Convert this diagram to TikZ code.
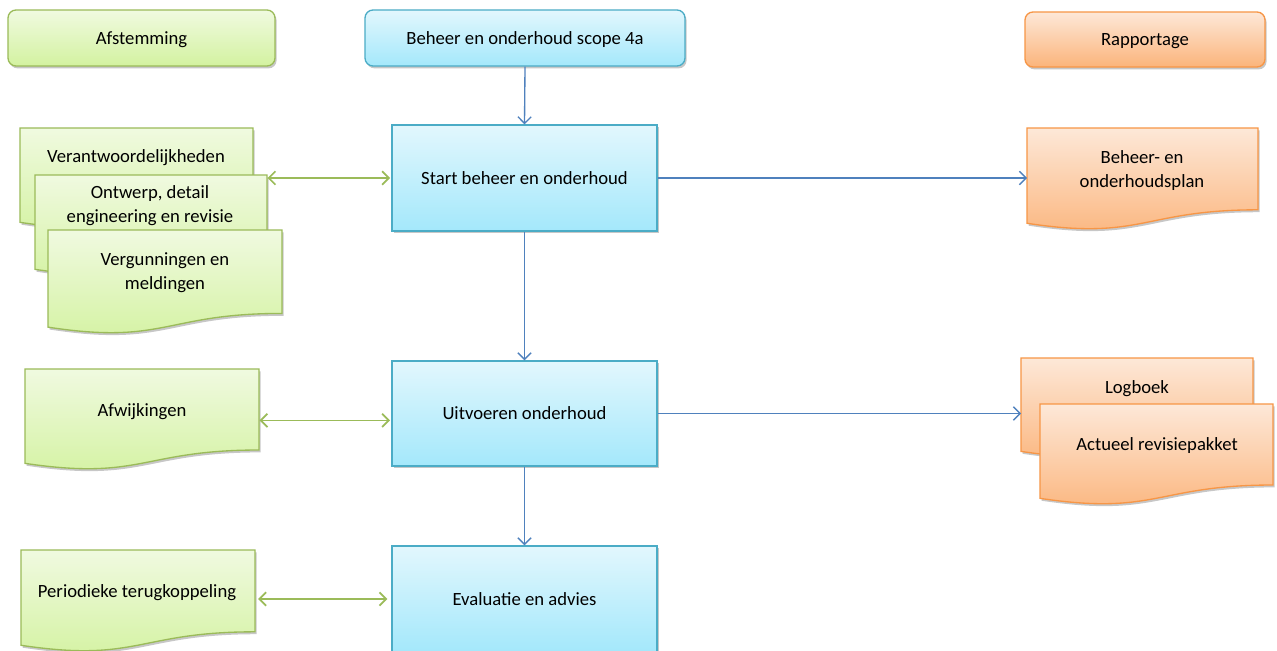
\documentclass[tikz,border=0pt]{standalone}
\usepackage{fontspec}
\setmainfont{Carlito}
\usetikzlibrary{arrows.meta,shadows,calc}
\definecolor{gTop}{HTML}{F0FAE0}
\definecolor{gBot}{HTML}{D3F2A0}
\definecolor{gLine}{HTML}{9BBB59}
\definecolor{bTop}{HTML}{E2F7FD}
\definecolor{bBot}{HTML}{A4E8FB}
\definecolor{bLine}{HTML}{4BACC6}
\definecolor{oTop}{HTML}{FDE8D8}
\definecolor{oBot}{HTML}{FBB47B}
\definecolor{oLine}{HTML}{F79646}
\definecolor{aBlue}{HTML}{4F81BD}
\newcommand\docnode[6]{% name, colour prefix, x, y, w, h (px)
  \path[docshape, draw=#2Line, top color=#2Top, bottom color=#2Bot]
    (#3,#4) -- ({#3+#5},#4) -- ({#3+#5},{#4+0.802*#6})
    .. controls ({#3+0.5*#5},{#4+0.802*#6}) and ({#3+0.5*#5},{#4+1.1075*#6}) ..
    (#3,{#4+0.934*#6}) -- cycle;
  \node[inner sep=0pt, minimum width={#5*0.75pt}, minimum height={0.802*#6*0.75pt},
        anchor=north west] (#1) at (#3,#4) {};
}
\tikzset{
  txt/.style={font=\fontsize{14}{18}\selectfont, text=black, align=center, inner sep=0pt},
  shad/.style={drop shadow={shadow xshift=1.2pt, shadow yshift=-1.8pt, opacity=0.22, fill=black}},
  docshape/.style={line width=1pt, shad},
  hdr/.style={txt, rounded corners=6pt, line width=1pt, shad, minimum height=42pt, text depth=0pt},
  ghdr/.style={hdr, draw=gLine, top color=gTop, bottom color=gBot},
  bhdr/.style={hdr, draw=bLine, top color=bTop, bottom color=bBot},
  ohdr/.style={hdr, draw=oLine, top color=oTop, bottom color=oBot},
  proc/.style={txt, line width=1pt, draw=bLine, top color=bTop, bottom color=bBot, shad,
               minimum width=198.75pt, minimum height=79.5pt},
  barrow/.style={draw=aBlue, line width=1pt, -{Straight Barb[length=5pt,width=10pt]}},
  garrow/.style={draw=gLine, line width=1.3pt,
               {Straight Barb[length=5pt,width=10pt]}-{Straight Barb[length=5pt,width=10pt]}}
}
\begin{document}
\begin{tikzpicture}[x=0.75pt,y=-0.75pt]
\useasboundingbox[fill=white] (0,0) rectangle (1277,650);
% headers
\node[ghdr, minimum width=200.25pt] (afst) at (141.5,38) {Afstemming};
\node[bhdr, minimum width=240pt] (scope) at (525,38) {Beheer en onderhoud scope 4a};
\node[ohdr, minimum width=180pt, minimum height=41.25pt] (rapp) at (1145,39.5) {Rapportage};
% process boxes
\node[proc] (start) at (524.5,178) {Start beheer en onderhoud};
\node[proc, minimum height=78.75pt] (uit) at (524.5,413.5) {Uitvoeren onderhoud};
\node[proc] (eval) at (524.5,599) {Evaluatie en advies};
% left documents
\docnode{ver}{g}{20}{128}{233}{101}
\node[txt] (ver-t) at (136,158) {Verantwoordelijkheden};
\docnode{ont}{g}{35}{175}{232}{101}
\node[txt] (ont-t) at (150,206) {Ontwerp, detail\\engineering en revisie};
\docnode{verg}{g}{48}{230}{234}{104}
\node[txt] (verg-t) at (165,273) {Vergunningen en\\meldingen};
\docnode{afw}{g}{25}{369}{234}{101}
\node[txt] (afw-t) at (142,412) {Afwijkingen};
\docnode{per}{g}{21}{550}{234}{102}
\node[txt] (per-t) at (137,593) {Periodieke terugkoppeling};
% right documents
\docnode{plan}{o}{1027}{128}{231}{102}
\node[txt] (plan-t) at (1142,171) {Beheer- en\\onderhoudsplan};
\docnode{log}{o}{1021}{358}{232}{100}
\node[txt] (log-t) at (1137,389) {Logboek};
\docnode{act}{o}{1040}{404}{233}{101}
\node[txt] (act-t) at (1157,446) {Actueel revisiepakket};
% connectors
\draw[barrow] (scope.south) -- (start.north);
\draw[barrow] (start.south) -- (uit.north);
\draw[barrow] (uit.south) -- (eval.north);
\draw[barrow] (start.east) -- (start.east -| plan.west);
\draw[barrow] (uit.east) -- (uit.east -| log.west);
\draw[garrow] (start.west -| ont.east) -- ([xshift=-1pt]start.west);
\draw[garrow] ([yshift=-8pt]afw.east) -- ([yshift=-8pt,xshift=-1pt]afw.east -| uit.west);
\draw[garrow] ([xshift=2pt]per.east |- eval.west) -- ([xshift=-3pt]eval.west);
\end{tikzpicture}
\end{document}
